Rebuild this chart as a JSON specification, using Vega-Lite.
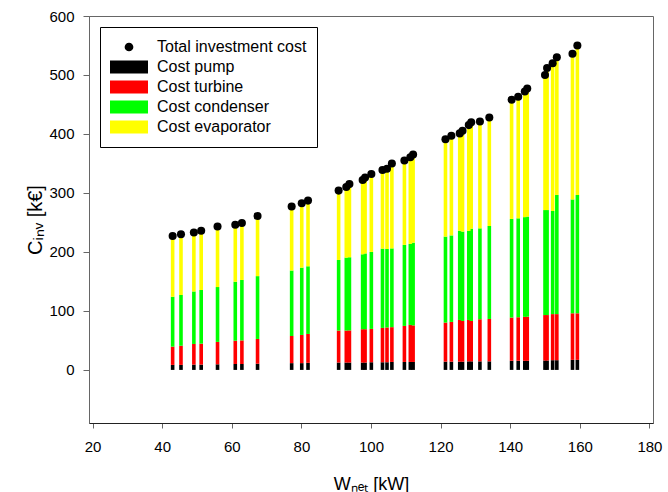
{
  "$schema": "https://vega.github.io/schema/vega-lite/v6.json",
  "width": 564,
  "height": 407,
  "autosize": "none",
  "padding": {"left": 89, "top": 16, "right": 15, "bottom": 69},
  "background": "white",
  "data": {
    "values": [
      {"W": 43.0, "pump": 8.5, "turbine_top": 39.5, "condenser_top": 124, "total": 227},
      {"W": 45.4, "pump": 8.5, "turbine_top": 41, "condenser_top": 127, "total": 230},
      {"W": 49.1, "pump": 9, "turbine_top": 44, "condenser_top": 133, "total": 233},
      {"W": 51.2, "pump": 9, "turbine_top": 44.5, "condenser_top": 135.5, "total": 236},
      {"W": 55.9, "pump": 9.5, "turbine_top": 47.5, "condenser_top": 140.5, "total": 243},
      {"W": 61.0, "pump": 10, "turbine_top": 49.5, "condenser_top": 149.5, "total": 246},
      {"W": 62.9, "pump": 10, "turbine_top": 50, "condenser_top": 152.5, "total": 249},
      {"W": 67.4, "pump": 10.5, "turbine_top": 52.5, "condenser_top": 159, "total": 261},
      {"W": 77.2, "pump": 11.5, "turbine_top": 57.5, "condenser_top": 168.5, "total": 277},
      {"W": 80.1, "pump": 11.5, "turbine_top": 59.3, "condenser_top": 173.4, "total": 282.5},
      {"W": 81.9, "pump": 12, "turbine_top": 61, "condenser_top": 175.7, "total": 287},
      {"W": 90.7, "pump": 12.5, "turbine_top": 66.7, "condenser_top": 186.4, "total": 304},
      {"W": 92.9, "pump": 12.5, "turbine_top": 66.7, "condenser_top": 190.4, "total": 310},
      {"W": 93.8, "pump": 12.5, "turbine_top": 67, "condenser_top": 191, "total": 315},
      {"W": 97.6, "pump": 12.5, "turbine_top": 69, "condenser_top": 196, "total": 322},
      {"W": 98.3, "pump": 12.5, "turbine_top": 69, "condenser_top": 197.5, "total": 326},
      {"W": 100.1, "pump": 13, "turbine_top": 69.5, "condenser_top": 200, "total": 332},
      {"W": 103.3, "pump": 13, "turbine_top": 71.2, "condenser_top": 205.6, "total": 339},
      {"W": 104.6, "pump": 13, "turbine_top": 72, "condenser_top": 205, "total": 341},
      {"W": 106.0, "pump": 13.5, "turbine_top": 72.5, "condenser_top": 206, "total": 350},
      {"W": 109.6, "pump": 13.5, "turbine_top": 74.6, "condenser_top": 212, "total": 355},
      {"W": 111.3, "pump": 13.5, "turbine_top": 76.3, "condenser_top": 213.6, "total": 360.5},
      {"W": 112.1, "pump": 13.5, "turbine_top": 75.5, "condenser_top": 215.8, "total": 365},
      {"W": 121.4, "pump": 14, "turbine_top": 80.2, "condenser_top": 226, "total": 391},
      {"W": 123.1, "pump": 14, "turbine_top": 81.4, "condenser_top": 228, "total": 397},
      {"W": 125.5, "pump": 14, "turbine_top": 84.7, "condenser_top": 236, "total": 401},
      {"W": 126.3, "pump": 14, "turbine_top": 83, "condenser_top": 234.5, "total": 405.5},
      {"W": 128.1, "pump": 14.5, "turbine_top": 84.7, "condenser_top": 235.6, "total": 415},
      {"W": 128.8, "pump": 14.5, "turbine_top": 83, "condenser_top": 239.5, "total": 420},
      {"W": 131.3, "pump": 14.5, "turbine_top": 85.9, "condenser_top": 240, "total": 421},
      {"W": 134.0, "pump": 14.5, "turbine_top": 86.4, "condenser_top": 244, "total": 428},
      {"W": 140.4, "pump": 15.5, "turbine_top": 88.7, "condenser_top": 256, "total": 458},
      {"W": 142.3, "pump": 15.5, "turbine_top": 89.3, "condenser_top": 257, "total": 463},
      {"W": 144.2, "pump": 15.5, "turbine_top": 90, "condenser_top": 259, "total": 472},
      {"W": 144.9, "pump": 15.5, "turbine_top": 90.4, "condenser_top": 260, "total": 477},
      {"W": 150.0, "pump": 16, "turbine_top": 93, "condenser_top": 271, "total": 500},
      {"W": 150.6, "pump": 16, "turbine_top": 93, "condenser_top": 271, "total": 512},
      {"W": 152.2, "pump": 16.5, "turbine_top": 94.6, "condenser_top": 269.5, "total": 520},
      {"W": 153.4, "pump": 16.5, "turbine_top": 94.6, "condenser_top": 296.6, "total": 530},
      {"W": 157.9, "pump": 17, "turbine_top": 96, "condenser_top": 289, "total": 536},
      {"W": 159.3, "pump": 17, "turbine_top": 96, "condenser_top": 296.6, "total": 550}
    ]
  },
  "encoding": {
    "x": {
      "field": "W",
      "type": "quantitative",
      "scale": {"domain": [20, 180], "nice": false, "zero": false},
      "axis": {
        "title": "Wₙₑₜ [kW]",
        "values": [20, 40, 60, 80, 100, 120, 140, 160, 180],
        "tickSize": 5,
        "labelPadding": 11,
        "titlePadding": 21,
        "domainColor": "#222",
        "labelFlush": false
      }
    }
  },
  "layer": [
    {
      "mark": {"type": "bar", "width": 3.6},
      "encoding": {
        "y": {
          "field": "pump",
          "type": "quantitative",
          "scale": {"domain": [-90, 600], "nice": false, "zero": false},
          "axis": {
            "title": "Cᵢₙᵥ [k€]",
            "titleFontSize": 20,
            "values": [0, 100, 200, 300, 400, 500, 600],
            "tickSize": 6,
            "labelPadding": 9,
            "titlePadding": 3
          }
        },
        "y2": {"datum": 0},
        "color": {
          "datum": "Cost pump",
          "scale": {
            "domain": ["Total investment cost", "Cost pump", "Cost turbine", "Cost condenser", "Cost evaporator"],
            "range": ["#000000", "#000000", "#ff0000", "#00ff00", "#ffff00"]
          },
          "legend": {
            "title": null,
            "orient": "none",
            "legendX": 11,
            "legendY": 11,
            "direction": "vertical",
            "padding": 10,
            "strokeColor": "#000000",
            "fillColor": "#ffffff",
            "symbolSize": 1444,
            "symbolStrokeWidth": 0,
            "clipHeight": 20,
            "rowPadding": 0,
            "symbolOffset": 0,
            "labelOffset": 9,
            "labelFontSize": 16,
            "labelFont": "Liberation Sans",
            "labelColor": "#000000",
            "labelLimit": 300,
            "encode": {
              "symbols": {
                "update": {
                  "shape": {"signal": "datum.value === 'Total investment cost' ? 'M-0.23,0A0.23,0.23,0,1,1,0.23,0A0.23,0.23,0,1,1,-0.23,0Z' : 'M-1,-0.34H1V0.34H-1Z'"},
                  "size": {"value": 1444},
                  "fill": {"scale": "color", "field": "value"},
                  "fillOpacity": {"value": 1},
                  "opacity": {"value": 1},
                  "strokeWidth": {"value": 0}
                }
              }
            }
          }
        }
      }
    },
    {
      "mark": {"type": "bar", "width": 3.6},
      "encoding": {
        "y": {"field": "turbine_top", "type": "quantitative"},
        "y2": {"field": "pump"},
        "color": {"datum": "Cost turbine"}
      }
    },
    {
      "mark": {"type": "bar", "width": 3.6},
      "encoding": {
        "y": {"field": "condenser_top", "type": "quantitative"},
        "y2": {"field": "turbine_top"},
        "color": {"datum": "Cost condenser"}
      }
    },
    {
      "mark": {"type": "bar", "width": 3.6},
      "encoding": {
        "y": {"field": "total", "type": "quantitative"},
        "y2": {"field": "condenser_top"},
        "color": {"datum": "Cost evaporator"}
      }
    },
    {
      "mark": {"type": "rule", "color": "#000000", "strokeWidth": 1},
      "encoding": {"y": {"datum": 0}}
    },
    {
      "mark": {"type": "point", "filled": true, "size": 65, "opacity": 1, "shape": "circle"},
      "encoding": {
        "y": {"field": "total", "type": "quantitative"},
        "color": {"datum": "Total investment cost"}
      }
    }
  ],
  "config": {
    "view": {"stroke": "#666666", "strokeWidth": 1},
    "bar": {"continuousBandSize": 3.6},
    "axis": {
      "grid": false,
      "domainColor": "#666666",
      "tickColor": "#666666",
      "labelColor": "#000000",
      "labelFont": "Liberation Sans",
      "labelFontSize": 15,
      "titleFont": "Liberation Sans",
      "titleFontSize": 18,
      "titleFontWeight": "normal",
      "titleColor": "#000000"
    }
  }
}
